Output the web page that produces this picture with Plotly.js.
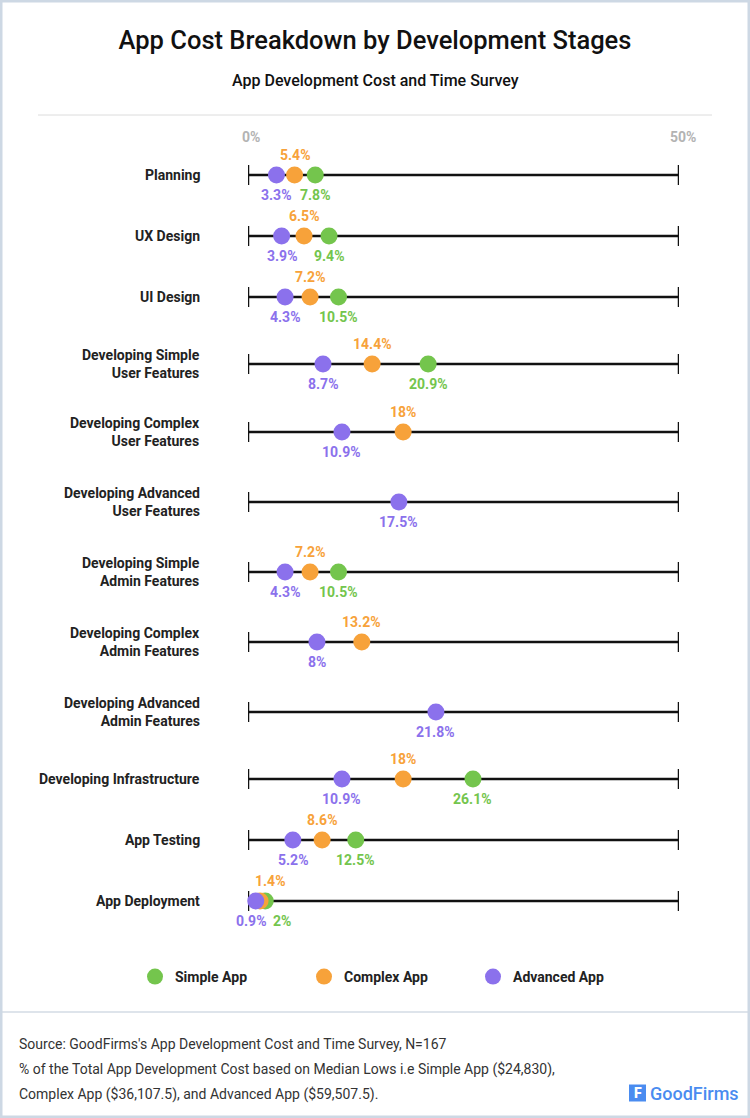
<!DOCTYPE html>
<html><head><meta charset="utf-8">
<script src="https://cdn.plot.ly/plotly-3.0.1.min.js"></script>
<style>html,body{margin:0;padding:0;background:#fff}#chart{width:750px;height:1118px}</style>
</head><body><div id="chart"></div>
<script>
// ---- data ----
const stages = [
  "Planning",
  "UX Design",
  "UI Design",
  "Developing Simple<br>User Features",
  "Developing Complex<br>User Features",
  "Developing Advanced<br>User Features",
  "Developing Simple<br>Admin Features",
  "Developing Complex<br>Admin Features",
  "Developing Advanced<br>Admin Features",
  "Developing Infrastructure",
  "App Testing",
  "App Deployment"
];
const simpleApp   = [7.8, 9.4, 10.5, 20.9, null, null, 10.5, null, null, 26.1, 12.5, 2];
const complexApp  = [5.4, 6.5, 7.2, 14.4, 18, null, 7.2, 13.2, null, 18, 8.6, 1.4];
const advancedApp = [3.3, 3.9, 4.3, 8.7, 10.9, 17.5, 4.3, 8, 21.8, 10.9, 5.2, 0.9];
const seriesNames = ["Simple App", "Complex App", "Advanced App"];
const axisRange = [0, 50];
const axisTickLabels = ["0%", "50%"];
const titleText = "App Cost Breakdown by Development Stages";
const subtitleText = "App Development Cost and Time Survey";
const footerLines = [
  "Source: GoodFirms's App Development Cost and Time Survey, N=167",
  "% of the Total App Development Cost based on Median Lows i.e Simple App ($24,830),",
  "Complex App ($36,107.5), and Advanced App ($59,507.5)."
];
const brandText = "GoodFirms";

// ---- layout constants (pixel rows, styles) ----
const W = 750, H = 1118;
const rowY = [175, 236, 297, 364, 432, 502, 572, 642, 712, 779, 840, 901];
const colors = ["#74c54d", "#f7a23a", "#8b71ec"];
const FONT = "Roboto, 'Noto Sans', sans-serif";
const py = p => 1 - p / H;

const seriesVals = [simpleApp, complexApp, advancedApp];
const labelSide = [-1, 1, -1]; // +1 above, -1 below
const crowdShift = [17, 10, -5]; // label nudges for the crowded last row

const traces = seriesVals.map((vals, s) => ({
  type: "scatter",
  mode: "markers",
  name: seriesNames[s],
  x: vals,
  y: rowY,
  marker: {size: 17, color: colors[s], line: {width: 0}},
  hoverinfo: "x+name",
  cliponaxis: false
}));

const shapes = [];
const annotations = [];
const ann = o => annotations.push(Object.assign({showarrow: false, xanchor: "center", yanchor: "middle"}, o));

// row lines + end ticks
rowY.forEach(y => {
  shapes.push({type: "line", xref: "x", yref: "y", x0: axisRange[0], x1: axisRange[1], y0: y, y1: y,
    line: {color: "#111", width: 2.5}, layer: "below"});
  axisRange.forEach(xv => shapes.push({type: "line", xref: "x", yref: "y", x0: xv, x1: xv, y0: y - 10, y1: y + 10,
    line: {color: "#111", width: 2.5}, layer: "below"}));
});

// value labels
seriesVals.forEach((vals, s) => {
  vals.forEach((v, i) => {
    if (v === null) return;
    const crowded = i === rowY.length - 1;
    ann({
      x: v, y: rowY[i], xref: "x", yref: "y", text: v + "%",
      yshift: 20 * labelSide[s], xshift: crowded ? crowdShift[s] : 0,
      font: {family: FONT, size: 14, color: colors[s], weight: 700}
    });
  });
});

// stage labels
stages.forEach((t, i) => ann({
  x: 202 / W, xref: "paper", y: rowY[i], yref: "y", text: t,
  xanchor: "right", align: "right",
  font: {family: FONT, size: 14, color: "#222", weight: 700}
}));

// axis end labels
axisTickLabels.forEach((t, k) => ann({
  x: axisRange[k], xref: "x", y: py(137), yref: "paper", text: t, xshift: 3 + k,
  font: {family: FONT, size: 14, color: "#b3b3b3", weight: 700}
}));

// subtitle
ann({x: 0.5, xref: "paper", y: py(81), yref: "paper", text: subtitleText,
  font: {family: FONT, size: 16, color: "#111", weight: 500}});

// footer
footerLines.forEach((t, k) => ann({
  x: 17 / W, xref: "paper", xanchor: "left", y: py(1044 + k * 25), yref: "paper", text: t,
  font: {family: FONT, size: 14, color: "#333"}
}));

// brand
shapes.push({type: "rect", xref: "paper", yref: "paper", x0: 629 / W, x1: 646 / W, y0: py(1101.5), y1: py(1084.5),
  fillcolor: "#4a8cf0", line: {width: 0}, layer: "below"});
ann({x: 637.5 / W, xref: "paper", y: py(1093), yref: "paper", text: "F",
  font: {family: FONT, size: 14, color: "#fff", weight: 900}});
ann({x: 648 / W, xref: "paper", xanchor: "left", y: py(1093), yref: "paper", text: brandText,
  font: {family: FONT, size: 18, color: "#4a8cf0", weight: 500}});

// separators and border
shapes.push({type: "line", xref: "paper", yref: "paper", x0: 38 / W, x1: 712 / W, y0: py(115), y1: py(115),
  line: {color: "#dcdcdc", width: 1}});
shapes.push({type: "line", xref: "paper", yref: "paper", x0: 0, x1: 1, y0: py(1012), y1: py(1012),
  line: {color: "#d3dbe5", width: 1.5}});
shapes.push({type: "rect", xref: "paper", yref: "paper", x0: 0, x1: 1, y0: 0, y1: 1,
  line: {color: "#cdd8e4", width: 5}});

const layout = {
  width: W, height: H,
  margin: {l: 0, r: 0, t: 0, b: 0},
  paper_bgcolor: "#fff", plot_bgcolor: "#fff",
  font: {family: FONT},
  title: {text: titleText, x: 0.5, xanchor: "center", y: py(40), yanchor: "middle",
    font: {family: FONT, size: 25.5, color: "#111", weight: 500}},
  xaxis: {domain: [248 / W, 679 / W], range: axisRange, visible: false, fixedrange: true},
  yaxis: {domain: [0, 1], range: [H, 0], visible: false, fixedrange: true},
  showlegend: true,
  legend: {orientation: "h", x: 135 / W, xanchor: "left", y: py(977), yanchor: "middle",
    entrywidth: 124, entrywidthmode: "pixels", itemclick: false, itemdoubleclick: false,
    font: {family: FONT, size: 14, color: "#222", weight: 700}, bgcolor: "rgba(0,0,0,0)"},
  shapes: shapes,
  annotations: annotations
};

Plotly.newPlot("chart", traces, layout, {displayModeBar: false, staticPlot: true});
</script>
</body></html>
